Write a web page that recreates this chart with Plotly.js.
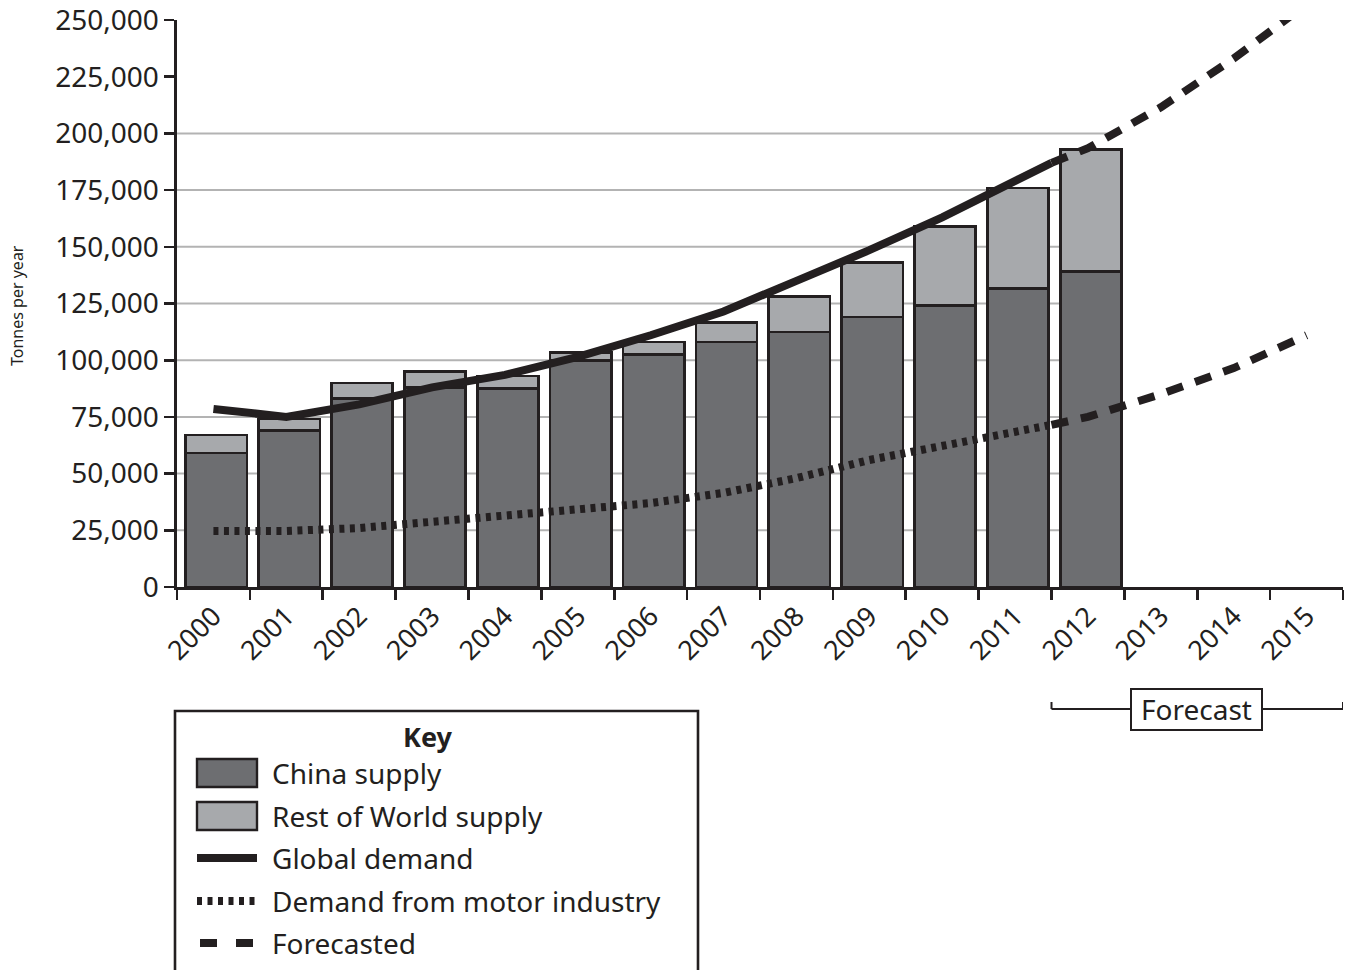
<!DOCTYPE html>
<html>
<head>
<meta charset="utf-8">
<script src="https://cdn.plot.ly/plotly-3.0.1.min.js"></script>
<style>
  html, body { margin: 0; padding: 0; background: #ffffff; }
  #chart { width: 1352px; height: 970px; }
</style>
</head>
<body>
<div id="chart"></div>
<script>
// ---------------- DATA ----------------
const barYears = [2000, 2001, 2002, 2003, 2004, 2005, 2006, 2007, 2008, 2009, 2010, 2011, 2012];
const chinaSupply = [59000, 69000, 83000, 88000, 87500, 100000, 102500, 108000, 112500, 119000, 124000, 131500, 139000];
const restOfWorldSupply = [8000, 5000, 7000, 7000, 5500, 3500, 5500, 8500, 15500, 24000, 35000, 44500, 54000];

const demandYears = [2000, 2001, 2002, 2003, 2004, 2005, 2006, 2007, 2008, 2009, 2010, 2011, 2011.5];
const globalDemand = [78500, 75000, 80500, 88000, 93500, 101500, 111000, 121500, 135000, 148500, 163000, 179000, 187000];
const motorDemand = [24700, 24700, 26000, 28700, 30900, 33600, 37000, 41500, 48000, 56000, 62300, 69000, 71500];

const forecastYears = [2011.5, 2012, 2013, 2014, 2015];
const globalForecast = [187000, 193500, 211500, 233000, 257000];
const motorForecast = [71500, 75000, 85000, 96500, 111000];

const tickYears = [2000, 2001, 2002, 2003, 2004, 2005, 2006, 2007, 2008, 2009, 2010, 2011, 2012, 2013, 2014, 2015];
const tickLabels = ["2000", "2001", "2002", "2003", "2004", "2005", "2006", "2007", "2008", "2009", "2010", "2011", "2012", "2013", "2014", "2015"];
const yTicks = [0, 25000, 50000, 75000, 100000, 125000, 150000, 175000, 200000, 225000, 250000];
const yTickLabels = ["0", "25,000", "50,000", "75,000", "100,000", "125,000", "150,000", "175,000", "200,000", "225,000", "250,000"];
const gridValues = [25000, 50000, 75000, 100000, 125000, 150000, 175000, 200000];

const legendLabels = ["China supply", "Rest of World supply", "Global demand", "Demand from motor industry", "Forecasted"];
const legendTitle = "Key";
const forecastLabel = "Forecast";
const yTitle = "Tonnes per year";

// ---------------- STYLE ----------------
const INK = "#231f20";
const DARK = "#6d6e71";
const LIGHT = "#a7a9ac";
const GRID = "#b3b3b3";
const FONT = "Noto Sans, Open Sans, sans-serif";

// plot area in pixels
const L = 177, R = 1343, T = 20, B = 587, W = 1352, H = 970;
const px = x => (x - L) / (R - L);
const py = y => (B - y) / (B - T);

const boundaries = tickYears.map(y => y - 0.5).concat([tickYears[tickYears.length - 1] + 0.5]);

const traces = [
  {
    type: "bar", x: barYears, y: chinaSupply, width: 0.84, offset: -0.38,
    marker: { color: DARK, line: { color: INK, width: 2.6 } },
    hoverinfo: "skip", showlegend: false
  },
  {
    type: "bar", x: barYears, y: restOfWorldSupply, width: 0.84, offset: -0.38,
    marker: { color: LIGHT, line: { color: INK, width: 2.6 } },
    hoverinfo: "skip", showlegend: false
  },
  {
    type: "scatter", mode: "lines", x: demandYears, y: globalDemand,
    line: { color: INK, width: 8 }, showlegend: false, hoverinfo: "skip"
  },
  {
    type: "scatter", mode: "lines", x: demandYears, y: motorDemand,
    line: { color: INK, width: 8, dash: "5px,5.5px" }, showlegend: false, hoverinfo: "skip"
  },
  {
    type: "scatter", mode: "lines", x: forecastYears, y: globalForecast,
    line: { color: INK, width: 8, dash: "17px,13px" }, showlegend: false, hoverinfo: "skip"
  },
  {
    type: "scatter", mode: "lines", x: forecastYears, y: motorForecast,
    line: { color: INK, width: 8, dash: "17px,13px" }, showlegend: false, hoverinfo: "skip"
  }
];

const shapes = [];
// gridlines (stop just after the 2012 bar)
gridValues.forEach(v => {
  shapes.push({
    type: "line", xref: "x", yref: "y", x0: 1999.5, x1: 2012.4, y0: v, y1: v,
    line: { color: GRID, width: 2 }, layer: "below"
  });
});

// Forecast bracket
const brY = 709;
shapes.push({ type: "line", xref: "x", yref: "paper", x0: 2011.5, x1: 2015.5, y0: py(brY), y1: py(brY), line: { color: INK, width: 2 } });
shapes.push({ type: "line", xref: "x", yref: "paper", x0: 2011.5, x1: 2011.5, y0: py(brY), y1: py(brY - 7), line: { color: INK, width: 2 } });
shapes.push({ type: "line", xref: "x", yref: "paper", x0: 2015.5, x1: 2015.5, y0: py(brY), y1: py(brY - 7), line: { color: INK, width: 2 } });
shapes.push({ type: "rect", xref: "paper", yref: "paper", x0: px(1131), x1: px(1262), y0: py(730), y1: py(689), fillcolor: "#ffffff", line: { color: INK, width: 2 } });

// Legend box
shapes.push({ type: "rect", xref: "paper", yref: "paper", x0: px(175), x1: px(698), y0: py(1000), y1: py(711), fillcolor: "rgba(0,0,0,0)", line: { color: INK, width: 2.6 } });
// swatches
const rowY = [773, 816, 858, 901, 943];
shapes.push({ type: "rect", xref: "paper", yref: "paper", x0: px(197), x1: px(257), y0: py(rowY[0] + 14), y1: py(rowY[0] - 14), fillcolor: DARK, line: { color: INK, width: 2.4 } });
shapes.push({ type: "rect", xref: "paper", yref: "paper", x0: px(197), x1: px(257), y0: py(rowY[1] + 14), y1: py(rowY[1] - 14), fillcolor: LIGHT, line: { color: INK, width: 2.4 } });
shapes.push({ type: "line", xref: "paper", yref: "paper", x0: px(197), x1: px(257), y0: py(rowY[2]), y1: py(rowY[2]), line: { color: INK, width: 8 } });
shapes.push({ type: "line", xref: "paper", yref: "paper", x0: px(197), x1: px(257), y0: py(rowY[3]), y1: py(rowY[3]), line: { color: INK, width: 8, dash: "5px,5.5px" } });
shapes.push({ type: "line", xref: "paper", yref: "paper", x0: px(200), x1: px(253), y0: py(rowY[4]), y1: py(rowY[4]), line: { color: INK, width: 8, dash: "17px,19px" } });

const annotations = [];
annotations.push({
  xref: "paper", yref: "paper", x: px(428), y: py(736), text: "<b>" + legendTitle + "</b>",
  showarrow: false, xanchor: "center", yanchor: "middle", font: { family: FONT, size: 27, color: INK }
});
legendLabels.forEach((lab, i) => {
  annotations.push({
    xref: "paper", yref: "paper", x: px(270), y: py(rowY[i]), text: lab,
    showarrow: false, xanchor: "left", yanchor: "middle", font: { family: FONT, size: 28, color: INK }
  });
});
annotations.push({
  xref: "paper", yref: "paper", x: px(1196.5), y: py(709), text: forecastLabel,
  showarrow: false, xanchor: "center", yanchor: "middle", font: { family: FONT, size: 28, color: INK }
});
annotations.push({
  xref: "paper", yref: "paper", x: px(17), y: py(306), text: yTitle, textangle: -90,
  showarrow: false, xanchor: "center", yanchor: "middle", font: { family: FONT, size: 16, color: INK }
});

const layout = {
  width: W, height: H,
  margin: { l: L, r: W - R, t: T, b: H - B, pad: 0 },
  paper_bgcolor: "#ffffff", plot_bgcolor: "#ffffff",
  barmode: "stack", bargap: 0,
  showlegend: false,
  font: { family: FONT, color: INK },
  xaxis: {
    type: "linear", range: [1999.5, 2015.5],
    tickmode: "array", tickvals: tickYears, ticktext: tickLabels,
    ticks: "", tickangle: -45, tickfont: { family: FONT, size: 27, color: INK },
    showgrid: false, zeroline: false,
    showline: true, linecolor: INK, linewidth: 2.6,
    minor: { tickmode: "array", tickvals: boundaries, ticks: "outside", ticklen: 10, tickwidth: 2.6, tickcolor: INK, showgrid: false },
    fixedrange: true
  },
  yaxis: {
    range: [0, 250000.5],
    tickmode: "array", tickvals: yTicks, ticktext: yTickLabels,
    ticks: "outside", ticklen: 10, tickwidth: 2.6, tickcolor: INK,
    tickfont: { family: FONT, size: 28, color: INK },
    ticklabeloverflow: "allow",
    showgrid: false, zeroline: false,
    showline: true, linecolor: INK, linewidth: 2.6,
    fixedrange: true
  },
  shapes: shapes,
  annotations: annotations
};

Plotly.newPlot("chart", traces, layout, { displayModeBar: false, staticPlot: true });
</script>
</body>
</html>
